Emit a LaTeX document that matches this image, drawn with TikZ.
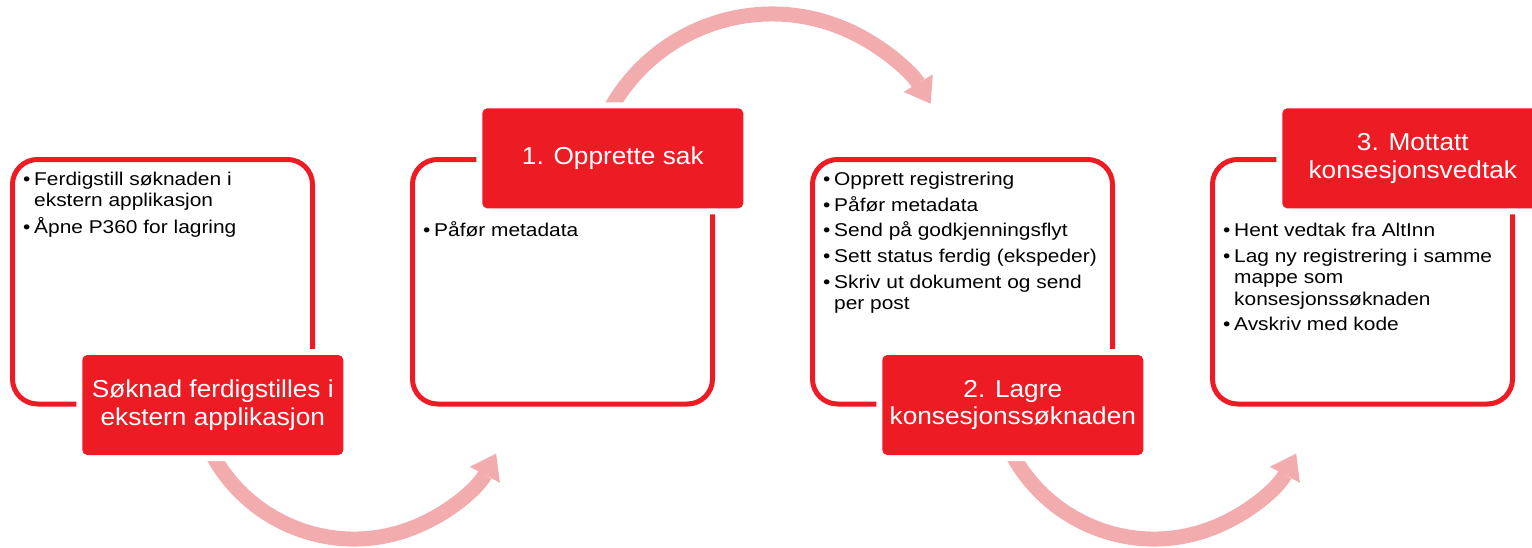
\documentclass[tikz,border=0pt]{standalone}
\usepackage{fontspec}
\setmainfont{Liberation Sans}
\newfontfamily\bodyfont[FakeStretch=1.13]{Liberation Sans}
\newfontfamily\titlefont[FakeStretch=1.07]{Liberation Sans}
\usetikzlibrary{arrows.meta,calc}
\definecolor{stepred}{HTML}{ED1C24}
\definecolor{turnpink}{HTML}{F3ACAE}
\newcommand{\itm}{\makebox[11pt][l]{\textbullet}}
\newcommand{\cnt}{\hspace*{11pt}}
\tikzset{
  outline/.style={draw=stepred, line width=5pt, rounded corners=25pt, minimum width=300pt, minimum height=244.5pt, inner sep=0pt},
  steptitle/.style={fill=stepred, text=white, rounded corners=5pt, minimum width=261pt, minimum height=100pt, inner sep=0pt, align=center, font=\titlefont\fontsize{24.5}{27.5}\selectfont, preaction={draw=white, line width=12pt}},
  bullets/.style={anchor=north west, inner sep=0pt, align=left, font=\bodyfont\fontsize{18.5}{21.5}\selectfont},
  turnarrow/.style={draw=turnpink, line width=15pt, -{Triangle[length=24pt, width=34pt, line width=0pt]}}
}
\begin{document}
\begin{tikzpicture}[x=1pt,y=-1pt]
\useasboundingbox (0,0) rectangle (1532,547);
\coordinate (c1) at (354,378);
\coordinate (c2) at (772,199);
\coordinate (c3) at (1154,378);
\draw[turnarrow] ($(c1)+(160:161)$) arc[start angle=160, end angle=28, radius=161];
\draw[turnarrow] ($(c2)+(-155:185)$) arc[start angle=-155, end angle=-31, radius=185];
\draw[turnarrow] ($(c3)+(160:161)$) arc[start angle=160, end angle=28, radius=161];
\node[outline] (box1) at (162.5,281.75) {};
\node[outline] (box2) at (562.5,281.75) {};
\node[outline] (box3) at (962.5,281.75) {};
\node[outline] (box4) at (1362.5,281.75) {};
\node[steptitle] (t1) at (212.8,405) {Søknad ferdigstilles i\\ekstern applikasjon};
\node[steptitle] (t2) at (612.8,158.3) {1. Opprette sak};
\node[steptitle] (t3) at (1012.8,405) {2. Lagre\\konsesjonssøknaden};
\node[steptitle] (t4) at (1412.8,158.3) {3. Mottatt\\konsesjonsvedtak};
\node[bullets] (l1) at (23,170) {\strut\itm Ferdigstill søknaden i\\\cnt ekstern applikasjon\\[5pt]\itm Åpne P360 for lagring};
\node[bullets] (l2) at (423,221.7) {\strut\itm Påfør metadata};
\node[bullets] (l3) at (823,170) {\strut\itm Opprett registrering\\[4.3pt]\itm Påfør metadata\\[4.3pt]\itm Send på godkjenningsflyt\\[4.3pt]\itm Sett status ferdig (ekspeder)\\[4.3pt]\itm Skriv ut dokument og send\\\cnt per post};
\node[bullets] (l4) at (1223,221.7) {\strut\itm Hent vedtak fra AltInn\\[4pt]\itm Lag ny registrering i samme\\\cnt mappe som\\\cnt konsesjonssøknaden\\[4pt]\itm Avskriv med kode};
\end{tikzpicture}
\end{document}
